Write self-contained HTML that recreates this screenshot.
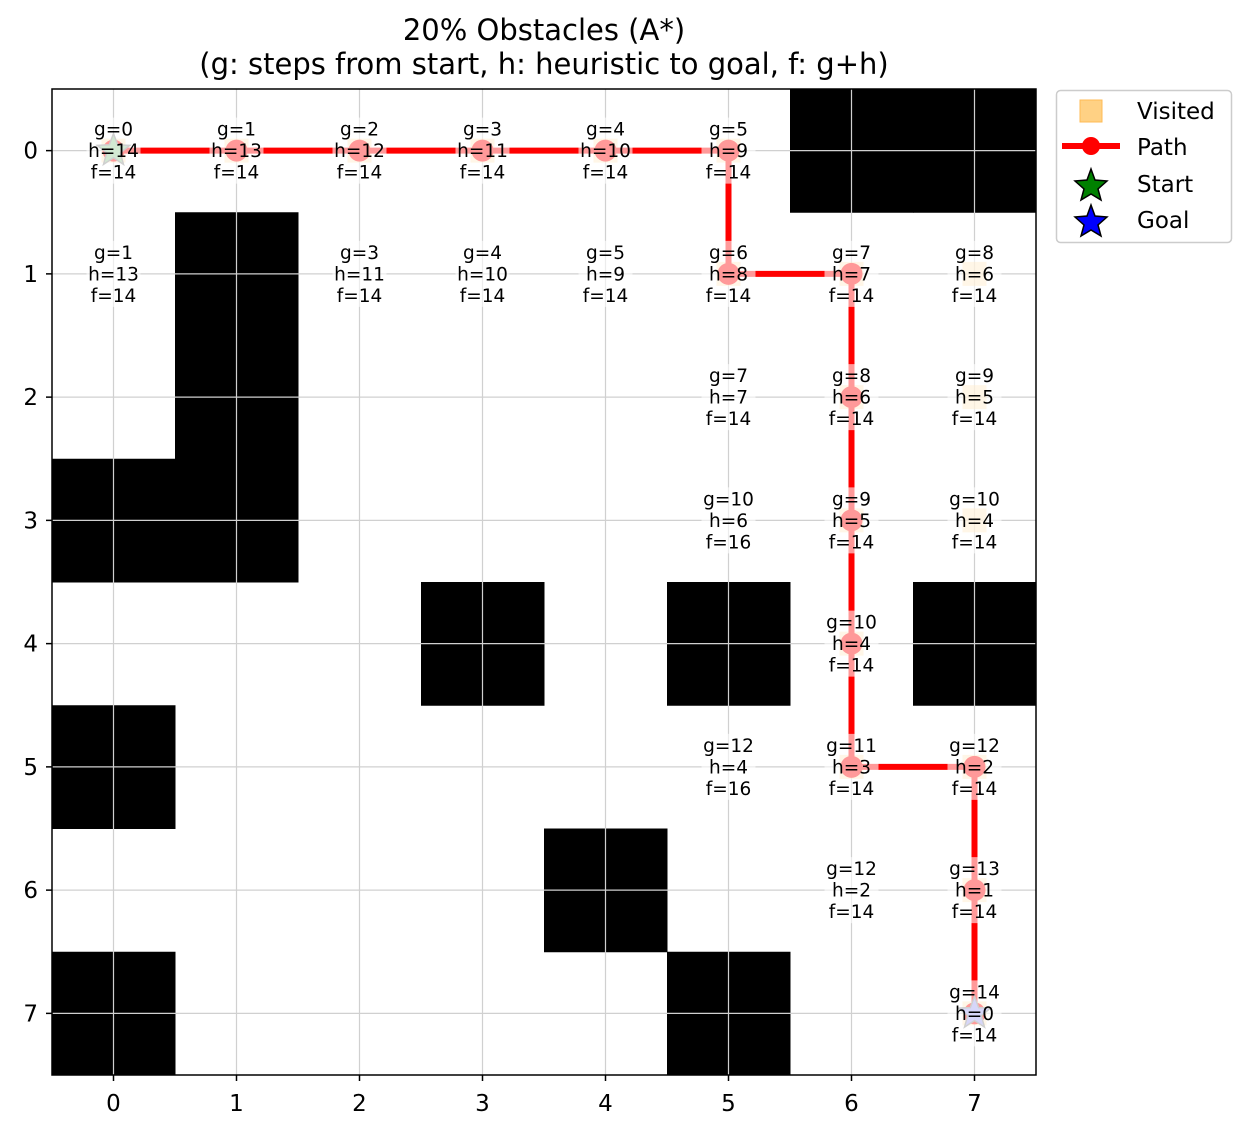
<!DOCTYPE html>
<html><head><meta charset="utf-8"><style>
body{margin:0;background:#fff}
svg text{font-family:"DejaVu Sans","Liberation Sans",sans-serif}
</style></head><body>
<svg id="chart" width="1248" height="1134" xmlns="http://www.w3.org/2000/svg">
<text x="544" y="40" style="font-size:29px" text-anchor="middle">20% Obstacles (A*)</text>
<text x="544" y="74" style="font-size:29px" text-anchor="middle">(g: steps from start, h: heuristic to goal, f: g+h)</text>
<g id="plot"></g>
<g>
<rect x="1056.5" y="90.5" width="175" height="152" rx="4" fill="#fff" stroke="#ccc" stroke-width="1.5"/>
<rect x="1080" y="100" width="22" height="22" fill="#ffcc77" fill-opacity="0.9" stroke="#ffbb55" stroke-width="1"/>
<text x="1137" y="119" style="font-size:23px">Visited</text>
<line x1="1062" y1="146" x2="1120" y2="146" stroke="red" stroke-width="6"/>
<circle cx="1091" cy="146" r="9" fill="red"/>
<text x="1137" y="155" style="font-size:23px">Path</text>
<polygon points="1091,169 1095,180 1107,181 1098,189 1101,200 1091,194 1081,200 1084,189 1075,181 1087,180" fill="green" stroke="#000" stroke-width="1.5"/>
<text x="1137" y="192" style="font-size:23px">Start</text>
<polygon points="1091,205 1095,216 1107,217 1098,225 1101,236 1091,230 1081,236 1084,225 1075,217 1087,216" fill="blue" stroke="#000" stroke-width="1.5"/>
<text x="1137" y="228" style="font-size:23px">Goal</text>
</g>
</svg>
<script>
const obstacles=[[0,6],[0,7],[1,1],[2,1],[3,0],[3,1],[4,3],[4,5],[4,7],[5,0],[6,4],[7,0],[7,5]];
const visitedCells=[[0,0],[0,1],[0,2],[0,3],[0,4],[0,5],[1,0],[1,2],[1,3],[1,4],[1,5],[1,6],[1,7],[2,5],[2,6],[2,7],[3,5],[3,6],[3,7],[4,6],[5,5],[5,6],[5,7],[6,6],[6,7],[7,7]];
const gValues=[0,1,2,3,4,5,1,3,4,5,6,7,8,7,8,9,10,9,10,10,12,11,12,12,13,14];
const hValues=[14,13,12,11,10,9,13,11,10,9,8,7,6,7,6,5,6,5,4,4,4,3,2,2,1,0];
const orangeCells=[[0,0],[0,1],[0,2],[0,3],[0,4],[0,5],[1,5],[1,6],[1,7],[2,6],[2,7],[3,6],[3,7],[4,6],[5,6],[5,7],[6,7],[7,7]];
const pathCells=[[0,0],[0,1],[0,2],[0,3],[0,4],[0,5],[1,5],[1,6],[2,6],[3,6],[4,6],[5,6],[5,7],[6,7],[7,7]];
const ticks=[0,1,2,3,4,5,6,7];
const start=[0,0], goal=[7,7];
const L=52,R=1036,T=89,B=1075,N=8;
const cw=(R-L)/N, ch=(B-T)/N;
const xs=c=>L+(c+0.5)*cw, ys=r=>T+(r+0.5)*ch;
const NS='http://www.w3.org/2000/svg';
const plot=document.getElementById('plot');
function mk(tag,attrs,parent){const e=document.createElementNS(NS,tag);for(const k in attrs)e.setAttribute(k,attrs[k]);(parent||plot).appendChild(e);return e;}
mk('rect',{x:L,y:T,width:R-L,height:B-T,fill:'#fff'});
obstacles.forEach(([r,c])=>{const e=mk('rect',{x:xs(c)-cw/2,y:ys(r)-ch/2,width:cw+0.5,height:ch+0.5,fill:'#000'});

});
ticks.forEach(t=>{
 mk('line',{x1:xs(t),y1:T,x2:xs(t),y2:B,stroke:'#d0d0d0','stroke-width':1.2});
 mk('line',{x1:L,y1:ys(t),x2:R,y2:ys(t),stroke:'#d0d0d0','stroke-width':1.2});
 mk('line',{x1:xs(t),y1:B,x2:xs(t),y2:B+6,stroke:'#000','stroke-width':1.5});
 mk('line',{x1:L-6,y1:ys(t),x2:L,y2:ys(t),stroke:'#000','stroke-width':1.5});
 const tx=mk('text',{x:xs(t),y:B+36,style:'font-size:23px','text-anchor':'middle'});tx.textContent=t;
 
 
 const ty=mk('text',{x:L-14,y:ys(t)+8,style:'font-size:23px','text-anchor':'end'});ty.textContent=t;
 
 
});
orangeCells.forEach(([r,c])=>{const e=mk('rect',{x:xs(c)-12,y:ys(r)-12,width:24,height:24,fill:'#ffcc77','fill-opacity':0.45});

});
const pl=mk('polyline',{points:pathCells.map(([r,c])=>xs(c)+','+ys(r)).join(' '),fill:'none',stroke:'red','stroke-width':6,'stroke-linejoin':'round'});


pathCells.forEach(([r,c])=>{const e=mk('circle',{cx:xs(c),cy:ys(r),r:11,fill:'red'});

});
function star(cx,cy,R1,fill){const p=[];for(let i=0;i<10;i++){const a=-Math.PI/2+i*Math.PI/5;const rr=i%2?R1*0.42:R1;p.push((cx+rr*Math.cos(a)).toFixed(1)+','+(cy+rr*Math.sin(a)).toFixed(1));}
return mk('polygon',{points:p.join(' '),fill:fill,stroke:'#888','stroke-width':1.5});}
const s1=star(xs(start[1]),ys(start[0]),17,'#8fc88f');


const s2=star(xs(goal[1]),ys(goal[0]),17,'#9a9af0');


visitedCells.forEach(([r,c],i)=>{
 const g=gValues[i],h=hValues[i];
 const lines=['g='+g,'h='+h,'f='+(g+h)];
 const cx=xs(c),cy=ys(r);
 const w=Math.max(...lines.map(s=>s.length))*12.5+4;
 mk('rect',{x:cx-w/2,y:cy-33,width:w,height:66,fill:'#fff','fill-opacity':0.6});
 lines.forEach((s,k)=>{const t=mk('text',{x:cx,y:cy-15+k*21.5,style:'font-size:18.5px','text-anchor':'middle'});t.textContent=s;
 
 });
});
mk('rect',{x:L,y:T,width:R-L,height:B-T,fill:'none',stroke:'#000','stroke-width':1.5});
</script>
</body></html>
